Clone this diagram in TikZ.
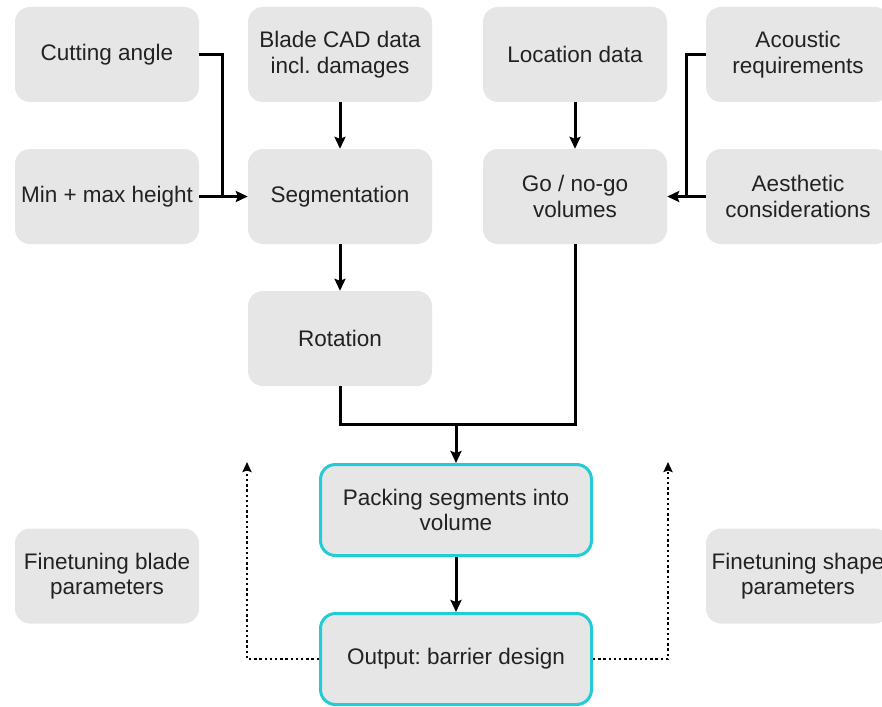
\documentclass[tikz,border=0pt]{standalone}
\usepackage{fontspec}
\setmainfont{Liberation Sans}
\frenchspacing
\usetikzlibrary{arrows.meta}
\definecolor{boxgray}{HTML}{E6E6E6}
\definecolor{txt}{HTML}{222222}
\definecolor{teal}{HTML}{22CCD6}
\tikzset{
  box/.style={fill=boxgray, rounded corners=15pt, minimum width=184pt, minimum height=95pt,
    align=center, text=txt, inner sep=0pt, font=\fontsize{22.5}{25.5}\selectfont},
  keybox/.style={box, draw=teal, line width=3pt, minimum width=271pt, minimum height=91pt},
  arr/.style={line width=3pt, -{Stealth[length=12pt,width=11pt,inset=2pt]}},
  link/.style={line width=3pt},
  dotarr/.style={line width=2.6pt, dash pattern=on 2.4pt off 2.8pt,
    -{Stealth[length=10pt,width=9pt,inset=1.5pt]}}
}
\begin{document}
\begin{tikzpicture}[x=1pt,y=-1pt]
\clip (0,0) rectangle (882,706);
\fill[white] (0,0) rectangle (882,706);
% input boxes
\node[box] (cut)   at (107,54.5) {Cutting angle};
\node[box] (blade) at (340,54.5) {Blade CAD data\\incl. damages};
\node[box] (loc)   at (575,54.5) {Location data};
\node[box] (acou)  at (798,54.5) {Acoustic\\requirements};
\node[box] (minmax) at (107,196.5) {Min + max height};
\node[box] (seg)   at (340,196.5) {Segmentation};
\node[box] (go)    at (575,196.5) {Go / no-go\\volumes};
\node[box] (aest)  at (798,196.5) {Aesthetic\\considerations};
\node[box] (rot)   at (340,338.5) {Rotation};
% processing boxes
\node[keybox] (pack) at (456,510) {Packing segments into\\volume};
\node[keybox] (out)  at (456,659) {Output: barrier design};
\node[box] (ftb) at (107,576) {Finetuning blade\\parameters};
\node[box] (fts) at (798,576) {Finetuning shape\\parameters};
% junction points
\coordinate (j1) at (222,196.5);
\coordinate (j2) at (686,196.5);
\coordinate (m)  at (456,424);
\coordinate (fl) at (247,462);
\coordinate (fr) at (668,462);
% connectors
\draw[link] (cut.east) -| (j1);
\draw[arr] (minmax.east) -- (seg.west);
\draw[arr] (blade.south) -- (seg.north);
\draw[arr] (seg.south) -- (rot.north);
\draw[arr] (loc.south) -- (go.north);
\draw[link] (acou.west) -| (j2);
\draw[arr] (aest.west) -- (go.east);
\draw[link] (rot.south) |- (m);
\draw[link] (go.south) |- (m);
\draw[arr] (m) -- (pack.north);
\draw[arr] (pack.south) -- (out.north);
\draw[dotarr] (out.west) -| (fl);
\draw[dotarr] (out.east) -| (fr);
\end{tikzpicture}
\end{document}
